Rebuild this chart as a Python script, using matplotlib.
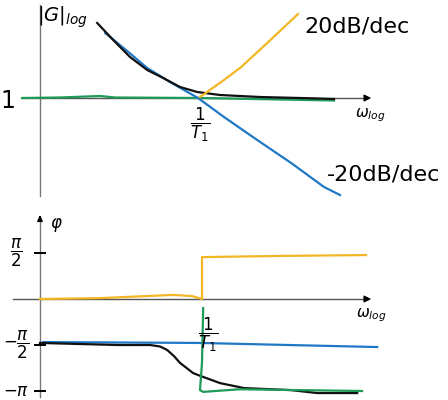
import numpy as np
from matplotlib import pyplot as plt

# x = decades (log omega), corner frequency 1/T1 at x = 4
# top: magnitude in dB, bottom: phase in rad
black_mag_x = [1.43, 1.83, 2.25, 2.68, 3.08, 3.5, 3.93, 4.5, 5.5, 6.5, 7.35]
black_mag_y = [37.5, 29, 20.5, 14, 10, 5.5, 3, 1.5, 0.5, 0, -0.5]

blue_mag_x = [1.63, 2.18, 2.68, 3.25, 3.95, 4.6, 5.43, 6.28, 7.1, 7.5]
blue_mag_y = [32.5, 23.5, 15, 8, 0, -9.5, -21, -32.5, -44.5, -48.5]

green_mag_x = [-0.45, 0.5, 1.5, 1.88, 4.0, 7.35]
green_mag_y = [0, 0.25, 1, 0.25, 0, -1.25]

yellow_mag_x = [4.0, 4.6, 5.03, 5.68, 6.45]
yellow_mag_y = [0.5, 9, 15.5, 27.5, 42]

yellow_ph_x = [0, 1.5, 3.33, 3.8, 4.05, 4.05, 6.0, 8.15]
yellow_ph_y = [0, 0.03, 0.14, 0.1, 0, 1.43, 1.47, 1.5]

blue_ph_x = [0.08, 4.0, 8.43]
blue_ph_y = [-1.47, -1.50, -1.64]

black_ph_x = [0, 1.93, 2.75, 3.0, 3.18, 3.35, 3.5, 3.83, 4.0, 4.5, 5.1, 6.28, 6.93, 7.93]
black_ph_y = [-1.5, -1.57, -1.57, -1.62, -1.74, -1.95, -2.18, -2.53, -2.62, -2.87, -3.04, -3.11, -3.21, -3.21]

green_ph_x = [4.08, 4.05, 4.0, 4.08, 5.0, 6.5, 8.05]
green_ph_y = [-0.31, -2.18, -3.11, -3.17, -3.08, -3.11, -3.14]

phase_ticks = [np.pi / 2, -np.pi / 2, -np.pi]
phase_labels = [r'$\dfrac{\pi}{2}$', r'$-\dfrac{\pi}{2}$', r'$-\pi$']

c_black = '#111111'
c_blue = '#1f78c6'
c_green = '#1e9a5a'
c_yellow = '#f3b726'
lw = 1.6

fig = plt.figure(figsize=(4.48, 4.0), dpi=100)
ax1 = fig.add_axes([0, 0.5, 1, 0.5])
ax2 = fig.add_axes([0, 0, 1, 0.5])
for ax in (ax1, ax2):
	ax.set_xlim(-1, 10.2)
	ax.axis('off')
ax1.set_ylim(-51, 49)
ax2.set_ylim(-3.447, 3.379)

# magnitude axes
ax1.plot([0, 0], [46.5, -49], color='#777777', lw=1)
ax1.plot([-0.45, 8.2], [0, 0], color='#555555', lw=1)
ax1.annotate('', xy=(8.35, 0), xytext=(8.1, 0),
	arrowprops=dict(arrowstyle='-|>', color='black', lw=1, mutation_scale=10))

ax1.plot(green_mag_x, green_mag_y, color=c_green, lw=lw)
ax1.plot(blue_mag_x, blue_mag_y, color=c_blue, lw=lw)
ax1.plot(black_mag_x, black_mag_y, color=c_black, lw=lw)
ax1.plot(yellow_mag_x, yellow_mag_y, color=c_yellow, lw=lw)

ax1.text(-0.08, 40.5, r'$|G|_{log}$', fontsize=14, va='center', ha='left')
ax1.text(-0.8, -1.5, '1', fontsize=17, va='center', ha='center')
ax1.text(4.0, -13.5, r'$\dfrac{1}{T_1}$', fontsize=12, va='center', ha='center')
ax1.text(7.93, 35.5, '20dB/dec', fontsize=16, va='center', ha='center')
ax1.text(8.6, -38.5, '-20dB/dec', fontsize=16, va='center', ha='center')
ax1.text(8.25, -8.5, r'$\omega_{log}$', fontsize=11, va='center', ha='center')

# phase axes
ax2.plot([0, 0], [2.8, -3.34], color='#777777', lw=1)
ax2.annotate('', xy=(0, 2.95), xytext=(0, 2.7),
	arrowprops=dict(arrowstyle='-|>', color='black', lw=1, mutation_scale=8))
ax2.plot([-0.68, 8.2], [0, 0], color='#555555', lw=1)
ax2.annotate('', xy=(8.35, 0), xytext=(8.1, 0),
	arrowprops=dict(arrowstyle='-|>', color='black', lw=1, mutation_scale=10))
for t, lab in zip(phase_ticks, phase_labels):
	ax2.plot([-0.12, 0.12], [t, t], color='black', lw=1.4)
	ax2.text(-0.6, t, lab, fontsize=12, va='center', ha='center')

ax2.plot(yellow_ph_x, yellow_ph_y, color=c_yellow, lw=lw)
ax2.plot(blue_ph_x, blue_ph_y, color=c_blue, lw=lw)
ax2.plot(black_ph_x, black_ph_y, color=c_black, lw=lw)
ax2.plot(green_ph_x, green_ph_y, color=c_green, lw=lw)

ax2.text(0.25, 2.53, r'$\varphi$', fontsize=12, va='center', ha='left')
ax2.text(8.28, -0.55, r'$\omega_{log}$', fontsize=11, va='center', ha='center')
ax2.text(4.2, -1.23, r'$\dfrac{1}{T_1}$', fontsize=12, va='center', ha='center')

fig.savefig('out.png', dpi=100)
